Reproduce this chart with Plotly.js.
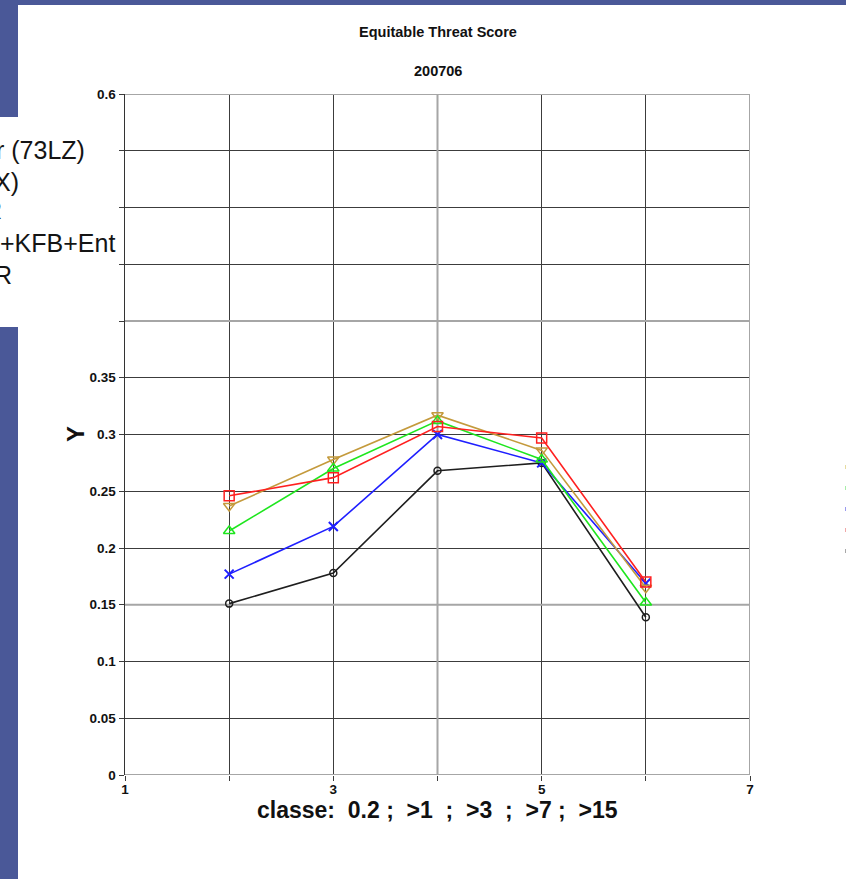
<!DOCTYPE html>
<html>
<head>
<meta charset="utf-8">
<script src="https://cdn.plot.ly/plotly-3.0.1.min.js"></script>
<style>
  html, body { margin: 0; padding: 0; width: 846px; height: 879px; overflow: hidden; background: #4a5898; }
  #white1 { position: absolute; left: 18px; top: 5px; width: 828px; height: 874px; background: #ffffff; }
  #white2 { position: absolute; left: 0px; top: 117px; width: 18px; height: 210px; background: #ffffff; }
  .mk { position: absolute; left: 845px; width: 1px; height: 4px; }
  #chart { position: absolute; left: 0; top: 0; width: 846px; height: 879px; }
</style>
</head>
<body>
<div id="white1"></div>
<div id="white2"></div>
<div class="mk" style="top:465px;background:#e6dca0"></div>
<div class="mk" style="top:486px;background:#a8eea8"></div>
<div class="mk" style="top:507px;background:#9a9af0"></div>
<div class="mk" style="top:528px;background:#f0a8a8"></div>
<div class="mk" style="top:549px;background:#a8a8a8"></div>
<div id="chart"></div>
<script>
// ---- data ----
const classes = [2, 3, 4, 5, 6];
const blackSeries = [0.151, 0.178, 0.268, 0.275, 0.139];
const blueSeries  = [0.177, 0.219, 0.300, 0.275, 0.169];
const greenSeries = [0.215, 0.270, 0.312, 0.278, 0.152];
const redSeries   = [0.246, 0.262, 0.307, 0.297, 0.170];
const goldSeries  = [0.237, 0.278, 0.317, 0.286, 0.165];

const xTickVals = [1, 2, 3, 4, 5, 6, 7];
const xTickText = ['1', '', '3', '', '5', '', '7'];
const yTickVals = [0, 0.05, 0.1, 0.15, 0.2, 0.25, 0.3, 0.35, 0.4, 0.45, 0.5, 0.55, 0.6];
const yTickText = ['0', '0.05', '0.1', '0.15', '0.2', '0.25', '0.3', '0.35', '', '', '', '', '0.6'];

const titleText = 'Equitable Threat Score';
const subtitleText = '200706';
const xTitleText = 'classe:  0.2 ;  >1  ;  >3  ;  >7 ;  >15';
const yTitleText = 'Y';
const legendFragments = ['r (73LZ)', 'X)', 'R', '+KFB+Ent', 'R'];

// ---- layout helpers (pixel -> paper) ----
const L = 125, R = 750, T = 94, B = 775;
const px = x => (x - L) / (R - L);
const py = y => (B - y) / (B - T);
const FONT = 'Liberation Sans, Arial, Helvetica, sans-serif';

function trace(y, color, symbol, size, mlw) {
  return {
    x: classes, y: y, type: 'scatter', mode: 'lines+markers',
    line: { color: color, width: 1.6 },
    marker: { symbol: symbol, size: size, color: color, line: { color: color, width: mlw } },
    showlegend: false, hoverinfo: 'x+y'
  };
}

const data = [
  trace(blackSeries, '#1e1e1e', 'circle-open', 7, 1.5),
  trace(blueSeries, '#1f1fff', 'x-thin-open', 9, 2),
  trace(goldSeries, '#c49a3c', 'triangle-down-open', 10, 1.5),
  trace(greenSeries, '#1ee61e', 'triangle-up-open', 10, 1.5),
  trace(redSeries, '#ff2020', 'square-open', 10, 1.5)
];

const lightLine = { color: '#a6a6a6', width: 2 };
const shapes = [
  { type: 'line', xref: 'x', yref: 'y', x0: 4, x1: 4, y0: 0, y1: 0.6, line: lightLine, layer: 'between' },
  { type: 'line', xref: 'x', yref: 'y', x0: 7, x1: 7, y0: 0, y1: 0.6, line: lightLine, layer: 'between' },
  { type: 'line', xref: 'x', yref: 'y', x0: 1, x1: 7, y0: 0.15, y1: 0.15, line: lightLine, layer: 'between' },
  { type: 'line', xref: 'x', yref: 'y', x0: 1, x1: 7, y0: 0.4, y1: 0.4, line: lightLine, layer: 'between' },
  { type: 'line', xref: 'x', yref: 'y', x0: 1, x1: 7, y0: 0.6, y1: 0.6, line: lightLine, layer: 'between' },
  { type: 'line', xref: 'x', yref: 'y', x0: 1, x1: 7, y0: 0, y1: 0, line: lightLine, layer: 'between' }
];

const legendRightEdges = [87, 21, 4, 117, 14];
const legendCenters = [150, 182, 210, 243, 275];
const annotations = [
  { text: titleText, x: 0.5, y: py(32), xref: 'paper', yref: 'paper', showarrow: false,
    xanchor: 'center', yanchor: 'middle', font: { family: FONT, size: 14.5, color: '#111', weight: 'bold' } },
  { text: subtitleText, x: 0.5, y: py(71), xref: 'paper', yref: 'paper', showarrow: false,
    xanchor: 'center', yanchor: 'middle', font: { family: FONT, size: 14.5, color: '#111', weight: 'bold' } },
  { text: xTitleText, x: px(437.5), y: py(810), xref: 'paper', yref: 'paper', showarrow: false,
    xanchor: 'center', yanchor: 'middle', font: { family: FONT, size: 23, color: '#111', weight: 'bold' } },
  { text: yTitleText, x: px(75), y: py(434), xref: 'paper', yref: 'paper', showarrow: false, textangle: -90,
    xanchor: 'center', yanchor: 'middle', font: { family: FONT, size: 24, color: '#111', weight: 'bold' } }
];
legendFragments.forEach((t, i) => {
  annotations.push({ text: t, x: px(legendRightEdges[i]), y: py(legendCenters[i]), xref: 'paper', yref: 'paper',
    showarrow: false, xanchor: 'right', yanchor: 'middle',
    font: { family: FONT, size: 25, color: '#141414' } });
});

const layout = {
  width: 846, height: 879,
  margin: { l: L, r: 846 - R, t: T, b: 879 - B, pad: 0 },
  paper_bgcolor: 'rgba(0,0,0,0)',
  plot_bgcolor: '#ffffff',
  font: { family: FONT, color: '#111' },
  showlegend: false,
  xaxis: {
    range: [1, 7], tickmode: 'array', tickvals: xTickVals, ticktext: xTickText,
    showgrid: true, gridcolor: '#3c3c3c', gridwidth: 1,
    zeroline: false, showline: false,
    ticks: 'outside', ticklen: 5, tickcolor: '#3c3c3c', tickwidth: 1,
    ticklabelstandoff: -3,
    tickfont: { family: FONT, size: 13.5, color: '#111', weight: 'bold' }
  },
  yaxis: {
    range: [0, 0.6], tickmode: 'array', tickvals: yTickVals, ticktext: yTickText,
    showgrid: true, gridcolor: '#3c3c3c', gridwidth: 1,
    zeroline: false, showline: true, linecolor: '#333', linewidth: 1.5, mirror: false,
    ticks: 'outside', ticklen: 5, tickcolor: '#3c3c3c', tickwidth: 1,
    tickfont: { family: FONT, size: 13.5, color: '#111', weight: 'bold' }
  },
  shapes: shapes,
  annotations: annotations
};

Plotly.newPlot('chart', data, layout, { displayModeBar: false, staticPlot: true });
</script>
</body>
</html>
